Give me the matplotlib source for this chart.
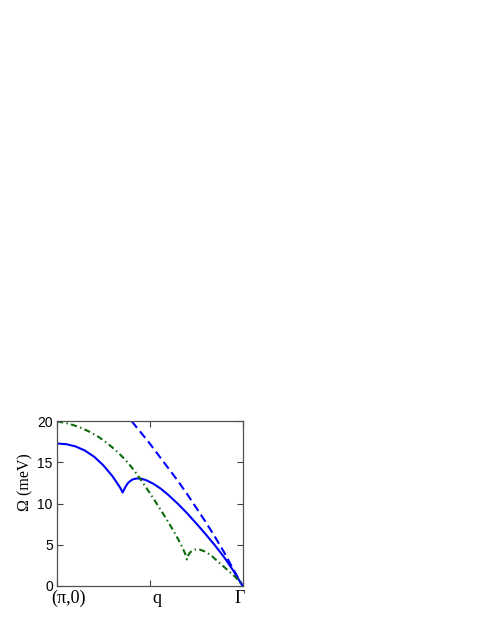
import matplotlib
matplotlib.use("Agg")
import matplotlib.pyplot as plt
from matplotlib.transforms import ScaledTranslation

# solid blue curve
x_solid = [0.0, 0.05, 0.10, 0.15, 0.20, 0.25, 0.30, 0.34, 0.354, 0.36, 0.367,
           0.381, 0.395, 0.41, 0.43, 0.45, 0.48, 0.52, 0.56, 0.60, 0.65, 0.70,
           0.75, 0.80, 0.85, 0.90, 0.95, 1.0]
y_solid = [17.3, 17.22, 16.95, 16.45, 15.7, 14.65, 13.3, 11.95, 11.35, 11.6, 11.95,
           12.45, 12.75, 12.95, 13.05, 13.05, 12.85, 12.4, 11.8, 11.05, 10.0, 8.85,
           7.6, 6.3, 4.95, 3.5, 1.85, 0.0]

# dashed blue curve
x_dash = [0.403, 0.45, 0.50, 0.55, 0.60, 0.65, 0.70, 0.75, 0.80, 0.85, 0.90, 0.95, 1.0]
y_dash = [20.0, 18.7, 17.3, 15.8, 14.3, 12.8, 11.2, 9.5, 7.8, 6.0, 4.1, 2.0, 0.0]

# green dash-dot curve
x_green = [0.0, 0.066, 0.12, 0.174, 0.228, 0.273, 0.318, 0.354, 0.39, 0.417, 0.45,
           0.50, 0.55, 0.60, 0.64, 0.67, 0.69, 0.70, 0.705, 0.715, 0.73, 0.75,
           0.77, 0.80, 0.83, 0.86, 0.89, 0.92, 0.95, 0.977, 1.0]
y_green = [20.0, 19.7, 19.3, 18.75, 18.05, 17.3, 16.45, 15.65, 14.75, 14.0, 12.95,
           11.3, 9.55, 7.75, 6.2, 4.95, 3.95, 3.2, 3.6, 4.0, 4.3, 4.45,
           4.4, 4.15, 3.7, 3.1, 2.5, 1.9, 1.3, 0.7, 0.0]

xtick_pos = [0.0, 0.5, 1.0]
xtick_labels = ["(\u03c0,0)", "q", "\u0393"]
ytick_pos = [0, 5, 10, 15, 20]

fig = plt.figure(figsize=(4.91, 6.35), dpi=100)
ax = fig.add_axes([0.116, 0.0775, 0.378, 0.259])

ax.plot(x_solid, y_solid, color="#0000ff", lw=1.5)
ax.plot(x_dash, y_dash, color="#0000ff", lw=1.5, linestyle=(0, (4, 2.2)))
ax.plot(x_green, y_green, color="#0b6b0b", lw=1.5, linestyle=(0, (3, 1.6, 0.7, 1.6)))

ax.set_xlim(0, 1)
ax.set_ylim(0, 20)
ax.set_xticks(xtick_pos)
ax.set_xticklabels(xtick_labels, fontfamily="Liberation Serif", fontsize=13)
ax.set_yticks(ytick_pos)
ax.set_yticklabels([str(v) for v in ytick_pos], fontfamily="Liberation Sans", fontsize=10)
ax.tick_params(direction="in", top=True, right=True, length=4, width=0.8, color="#404040")
ax.tick_params(axis="y", pad=3)
ax.tick_params(axis="x", pad=3)
for s in ax.spines.values():
    s.set_color("#505050")
    s.set_linewidth(0.9)

# nudge x tick labels like the original
shifts = [12, 7, -3]
for lab, dx in zip(ax.get_xticklabels(), shifts):
    lab.set_transform(lab.get_transform() + ScaledTranslation(dx / 100, 0, fig.dpi_scale_trans))

ax.set_ylabel("\u03a9 (meV)", fontfamily="Liberation Serif", fontsize=11.5)
ax.yaxis.set_label_coords(-0.127, 0.629)

fig.savefig("out.png", dpi=100)
